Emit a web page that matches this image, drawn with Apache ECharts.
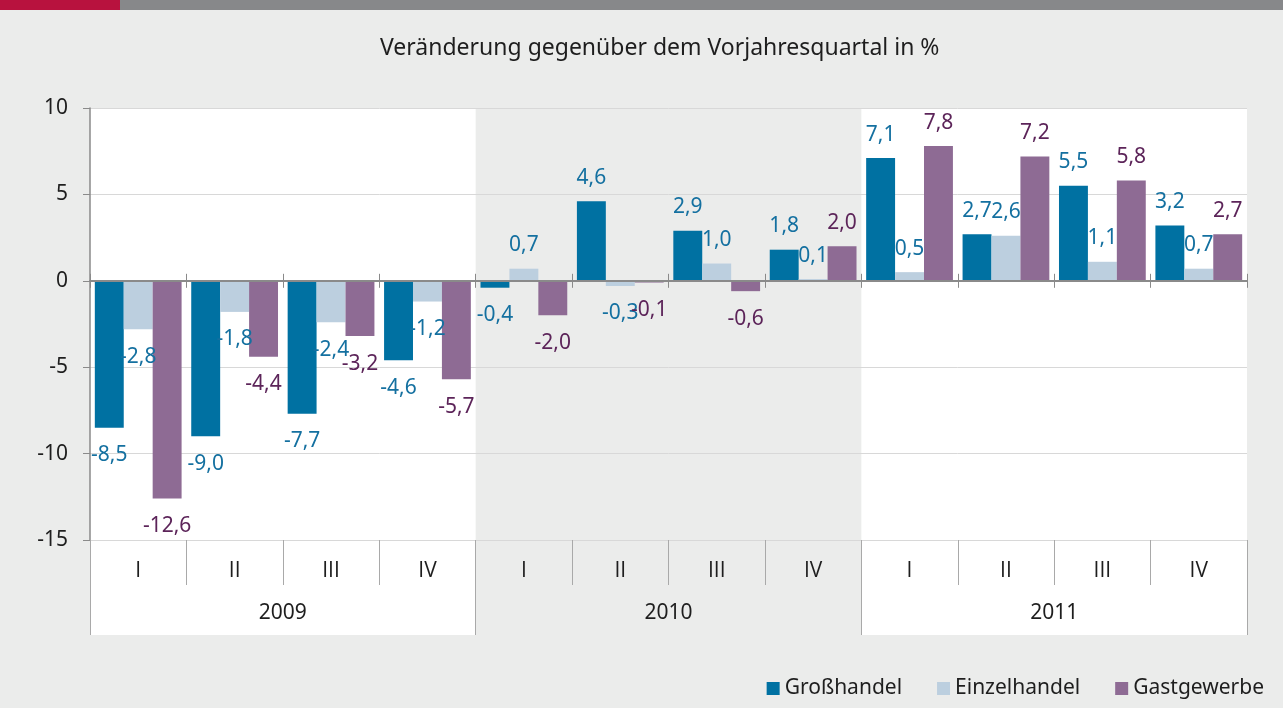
<!DOCTYPE html>
<html>
<head>
<meta charset="utf-8">
<script src="https://cdn.jsdelivr.net/npm/echarts@6/dist/echarts.min.js"></script>
<style>
  html, body { margin: 0; padding: 0; background: #ebeceb; }
  #chart { width: 1283px; height: 708px; }
</style>
</head>
<body>
<div id="chart"></div>
<script>
// Quartale und Jahre (zweistufige Kategorieachse)
const years = ['2009', '2010', '2011'];
const quarters = ['I', 'II', 'III', 'IV'];

// Veränderung gegenüber dem Vorjahresquartal in %
const grosshandel = [-8.5, -9.0, -7.7, -4.6, -0.4, 4.6, 2.9, 1.8, 7.1, 2.7, 5.5, 3.2];
const einzelhandel = [-2.8, -1.8, -2.4, -1.2, 0.7, -0.3, 1.0, 0.1, 0.5, 2.6, 1.1, 0.7];
const gastgewerbe = [-12.6, -4.4, -3.2, -5.7, -2.0, -0.1, -0.6, 2.0, 7.8, 7.2, 5.8, 2.7];

const categories = [];
years.forEach(y => quarters.forEach(q => categories.push(y + ' ' + q)));

const FONT = '"Noto Sans", "Open Sans", sans-serif';
const FONT_ROMAN = '"Open Sans", "DejaVu Sans", sans-serif';
const GRID_LEFT = 90, GRID_RIGHT = 36, GRID_TOP = 108, GRID_BOTTOM = 168;
const AXIS_GRAY = '#8a8a8a';
const TICK_GRAY = '#a9a9a9';
const TEXT = '#1e1e1e';

const fmt = v => v.toFixed(1).replace('.', ',');

function barData(values) {
    // Beschriftung außen am Balkenende: oben bei positiven, unten bei negativen Werten
    return values.map(v => ({
        value: v,
        label: v < 0 ? { position: 'bottom', distance: 17 } : { position: 'top', distance: 13 }
    }));
}

function barSeries(name, values, color, labelColor) {
    return {
        name: name,
        type: 'bar',
        xAxisIndex: 0,
        yAxisIndex: 0,
        barGap: '0%',
        barCategoryGap: '10%',
        itemStyle: { color: color },
        label: {
            show: true,
            color: labelColor,
            fontFamily: FONT,
            fontSize: 21,
            formatter: p => fmt(p.value)
        },
        data: barData(values),
        z: 3
    };
}

const chart = echarts.init(document.getElementById('chart'));

chart.setOption({
    backgroundColor: '#ebeceb',
    animation: false,
    textStyle: { fontFamily: FONT },
    title: {
        text: 'Veränderung gegenüber dem Vorjahresquartal in %',
        left: 375,
        top: 32,
        textStyle: { fontFamily: FONT, fontSize: 23, fontWeight: 'normal', color: TEXT }
    },
    legend: {
        data: ['Großhandel', 'Einzelhandel', 'Gastgewerbe'],
        right: 14,
        top: 673,
        icon: 'rect',
        itemWidth: 13,
        itemHeight: 13,
        itemGap: 35,
        textStyle: { fontFamily: FONT, fontSize: 21, color: TEXT }
    },
    grid: { left: GRID_LEFT, right: GRID_RIGHT, top: GRID_TOP, bottom: GRID_BOTTOM },
    xAxis: [
        {
            // Quartale
            type: 'category',
            position: 'bottom',
            data: categories,
            axisLine: { show: false, onZero: false },
            axisTick: { show: true, interval: 0, length: 45, lineStyle: { color: TICK_GRAY } },
            axisLabel: {
                interval: 0, margin: 21, fontSize: 21, color: TEXT, fontFamily: FONT_ROMAN,
                formatter: v => v.split(' ')[1]
            }
        },
        {
            // Jahre
            type: 'category',
            position: 'bottom',
            data: years,
            axisLine: { show: false, onZero: false },
            axisTick: { show: true, interval: 0, length: 95, lineStyle: { color: TICK_GRAY } },
            axisLabel: { interval: 0, margin: 63, fontSize: 21, color: TEXT, fontFamily: FONT }
        },
        {
            // Nulllinie mit Teilstrichen nach unten
            type: 'category',
            position: 'bottom',
            data: categories,
            axisLine: { show: true, onZero: true, onZeroAxisIndex: 0, lineStyle: { color: AXIS_GRAY, width: 2 } },
            axisTick: { show: true, interval: 0, length: 7, lineStyle: { color: AXIS_GRAY } },
            axisLabel: { show: false },
            z: 4
        },
        {
            // Nulllinie mit Teilstrichen nach oben
            type: 'category',
            position: 'bottom',
            data: categories,
            axisLine: { show: false, onZero: true, onZeroAxisIndex: 0 },
            axisTick: { show: true, inside: true, interval: 0, length: 7, lineStyle: { color: AXIS_GRAY } },
            axisLabel: { show: false },
            z: 4
        }
    ],
    yAxis: {
        type: 'value',
        min: -15,
        max: 10,
        interval: 5,
        axisLine: { show: true, lineStyle: { color: AXIS_GRAY, width: 1.5 } },
        axisTick: { show: true, length: 7, lineStyle: { color: AXIS_GRAY } },
        axisLabel: { margin: 22, fontSize: 21, color: TEXT, fontFamily: FONT },
        splitLine: { lineStyle: { color: '#d8d8d8' } }
    },
    series: [
        barSeries('Großhandel', grosshandel, '#0071a2', '#1470a0'),
        barSeries('Einzelhandel', einzelhandel, '#bccfdf', '#1470a0'),
        barSeries('Gastgewerbe', gastgewerbe, '#8e6b94', '#5c2459')
    ]
});

// Hintergrund: weiße Flächen für 2009 und 2011, farbige Leiste oben
const x0 = chart.convertToPixel({ xAxisIndex: 1 }, years[0]);
const x1 = chart.convertToPixel({ xAxisIndex: 1 }, years[1]);
const band = x1 - x0;
const yTop = chart.convertToPixel({ yAxisIndex: 0 }, 10);
const yBottom = 708 - GRID_BOTTOM + 95;

const graphics = [
    { type: 'rect', shape: { x: 0, y: 0, width: 120, height: 10 }, style: { fill: '#b8123e' }, z: -10 },
    { type: 'rect', shape: { x: 120, y: 0, width: 1163, height: 10 }, style: { fill: '#87888a' }, z: -10 }
];
[0, 2].forEach(i => {
    const cx = chart.convertToPixel({ xAxisIndex: 1 }, years[i]);
    graphics.push({
        type: 'rect',
        shape: { x: cx - band / 2, y: yTop, width: band, height: yBottom - yTop },
        style: { fill: '#ffffff' },
        z: -10
    });
});
chart.setOption({ graphic: graphics });
</script>
</body>
</html>
